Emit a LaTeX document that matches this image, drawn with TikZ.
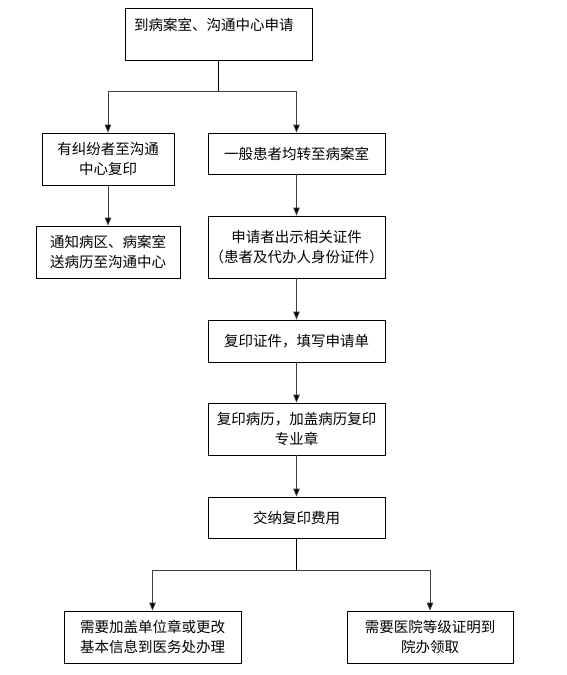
\documentclass[tikz,border=0pt]{standalone}
\usepackage{fontspec}
\newfontfamily\cjk{Noto Sans CJK SC}
\usetikzlibrary{arrows.meta}
\tikzset{
  box/.style={draw, line width=0.8pt, inner sep=0pt, align=center,
    font={\cjk\fontsize{14.5}{20}\selectfont}},
  txt/.style={inner sep=0pt, font={\cjk\fontsize{14.5}{20}\selectfont}},
  link/.style={line width=0.8pt},
  arr/.style={line width=0.8pt, draw=black!75, -{Triangle[length=8pt,width=6.5pt,fill=black]}}
}
\begin{document}
\begin{tikzpicture}[x=1pt,y=-1pt]
\useasboundingbox (0,0) rectangle (567,675);
\node[box, minimum width=187pt, minimum height=52pt] (top) at (218.5,34) {};
\node[txt, anchor=west] (toptext) at (134,25) {到病案室、沟通中心申请};
\node[box, minimum width=132pt, minimum height=52pt] (L1) at (108,159) {有纠纷者至沟通\\中心复印};
\node[box, minimum width=177pt, minimum height=41pt] (R1) at (296.5,153.5) {一般患者均转至病案室};
\node[box, minimum width=144pt, minimum height=52pt] (L2) at (108,252) {通知病区、病案室\\送病历至沟通中心};
\node[box, minimum width=177pt, minimum height=62pt] (R2) at (296.5,247) {申请者出示相关证件\\\makebox[9pt][r]{（}患者及代办人身份证件\makebox[9pt][l]{）}};
\node[box, minimum width=177pt, minimum height=42pt] (R3) at (296.5,341) {复印证件，填写申请单};
\node[box, minimum width=177pt, minimum height=52pt] (R4) at (296.5,429) {复印病历，加盖病历复印\\专业章};
\node[box, minimum width=177pt, minimum height=41pt] (R5) at (296.5,517.5) {交纳复印费用};
\node[box, minimum width=177pt, minimum height=52pt] (B1) at (152.5,637) {需要加盖单位章或更改\\基本信息到医务处办理};
\node[box, minimum width=166pt, minimum height=52pt] (B2) at (430,637) {需要医院等级证明到\\院办领取};
\coordinate (j1) at (218.5,91);
\coordinate (j2) at (296.5,570);
\draw[link] (top.south) -- (j1);
\draw[arr] (j1) -| (L1.north);
\draw[arr] (j1) -| (R1.north);
\draw[arr] (L1) -- (L2);
\draw[arr] (R1) -- (R2);
\draw[arr] (R2) -- (R3);
\draw[arr] (R3) -- (R4);
\draw[arr] (R4) -- (R5);
\draw[link] (R5.south) -- (j2);
\draw[arr] (j2) -| (B1.north);
\draw[arr] (j2) -| (B2.north);
\end{tikzpicture}
\end{document}
